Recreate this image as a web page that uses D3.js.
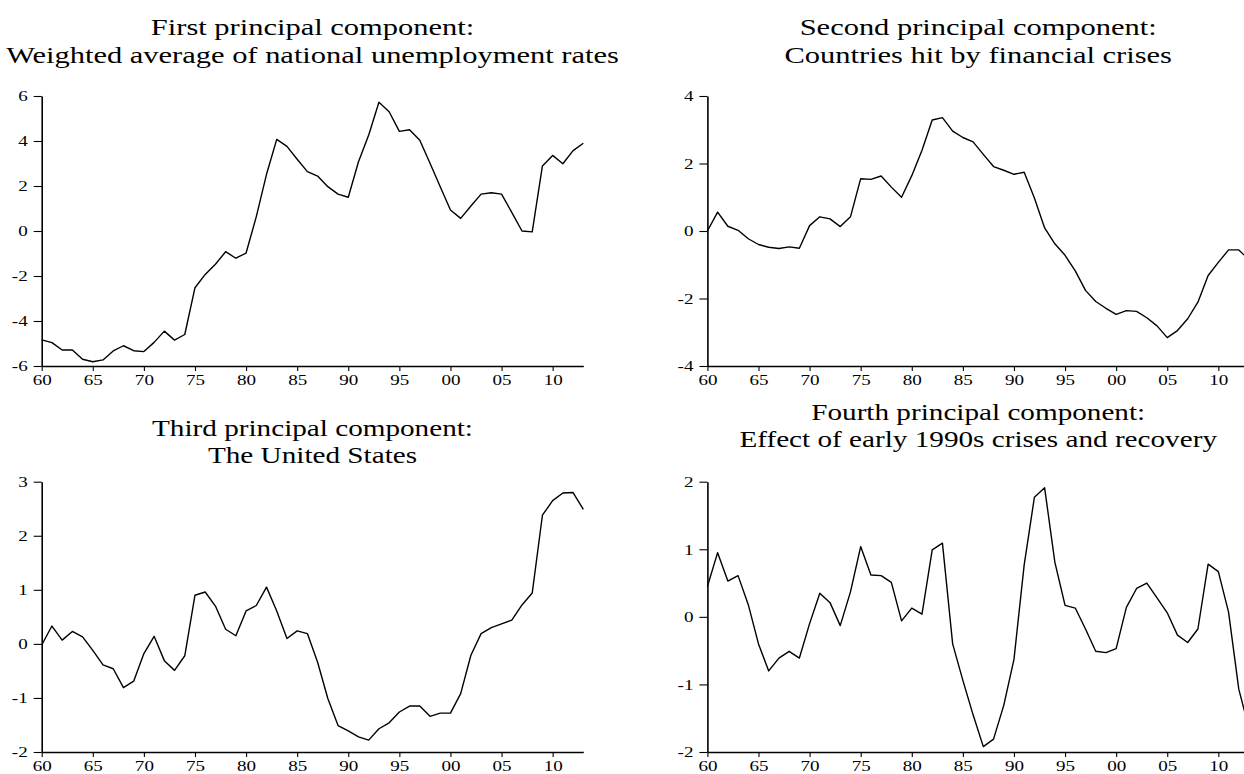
<!DOCTYPE html>
<html>
<head>
<meta charset="utf-8">
<script src="https://cdn.jsdelivr.net/npm/d3@7"></script>
<style>
  html, body { margin: 0; padding: 0; background: #fff; }
  svg { display: block; }
  text { font-family: "Liberation Serif", "Times New Roman", serif; fill: #000; }
</style>
</head>
<body>
<svg id="chart" width="1244" height="774"></svg>
<script>
// Annual observations, 1960-2013
const years = d3.range(1960, 2014);

const pc1 = [-4.84, -4.96, -5.29, -5.29, -5.70, -5.81, -5.73, -5.33, -5.10, -5.32,
  -5.36, -4.95, -4.45, -4.85, -4.60, -2.52, -1.93, -1.48, -0.92, -1.21,
  -0.98, 0.64, 2.52, 4.07, 3.76, 3.19, 2.64, 2.44, 1.97, 1.64,
  1.50, 3.08, 4.27, 5.72, 5.30, 4.43, 4.50, 4.03, 3.01, 1.97,
  0.93, 0.56, 1.11, 1.64, 1.70, 1.64, 0.83, 0.00, -0.04, 2.89,
  3.36, 2.99, 3.57, 3.90];

const pc2 = [0.00, 0.56, 0.14, 0.02, -0.23, -0.40, -0.48, -0.52, -0.47, -0.51,
  0.16, 0.42, 0.36, 0.13, 0.42, 1.55, 1.53, 1.63, 1.30, 1.00,
  1.64, 2.39, 3.29, 3.36, 2.96, 2.77, 2.64, 2.27, 1.91, 1.80,
  1.68, 1.74, 0.98, 0.09, -0.38, -0.72, -1.18, -1.76, -2.09, -2.29,
  -2.47, -2.36, -2.38, -2.57, -2.81, -3.16, -2.95, -2.60, -2.11, -1.32,
  -0.93, -0.56, -0.56, -0.85];

const pc3 = [-0.02, 0.33, 0.07, 0.23, 0.13, -0.12, -0.39, -0.46, -0.81, -0.69,
  -0.18, 0.14, -0.31, -0.49, -0.22, 0.90, 0.96, 0.70, 0.27, 0.15,
  0.61, 0.71, 1.05, 0.61, 0.10, 0.24, 0.19, -0.34, -1.01, -1.51,
  -1.61, -1.72, -1.78, -1.57, -1.46, -1.26, -1.15, -1.15, -1.34, -1.28,
  -1.28, -0.92, -0.21, 0.19, 0.30, 0.37, 0.44, 0.72, 0.94, 2.38,
  2.65, 2.79, 2.80, 2.49];

const pc4 = [0.45, 0.95, 0.53, 0.61, 0.18, -0.40, -0.80, -0.61, -0.51, -0.61,
  -0.10, 0.35, 0.21, -0.13, 0.37, 1.04, 0.62, 0.61, 0.51, -0.06,
  0.13, 0.04, 0.99, 1.09, -0.40, -0.94, -1.45, -1.92, -1.81, -1.31,
  -0.63, 0.77, 1.77, 1.91, 0.81, 0.17, 0.13, -0.18, -0.51, -0.53,
  -0.47, 0.14, 0.42, 0.50, 0.28, 0.06, -0.27, -0.38, -0.18, 0.78,
  0.67, 0.07, -1.07, -1.65];

const xTicks = [1960, 1965, 1970, 1975, 1980, 1985, 1990, 1995, 2000, 2005, 2010];
const yTicks1 = [-6, -4, -2, 0, 2, 4, 6];
const yTicks2 = [-4, -2, 0, 2, 4];
const yTicks3 = [-2, -1, 0, 1, 2, 3];
const yTicks4 = [-2, -1, 0, 1, 2];

const titles1 = ["First principal component:", "Weighted average of national unemployment rates"];
const titles2 = ["Second principal component:", "Countries hit by financial crises"];
const titles3 = ["Third principal component:", "The United States"];
const titles4 = ["Fourth principal component:", "Effect of early 1990s crises and recovery"];

// Panel layout (pixels)
const STRETCH = 1.27;      // horizontal stretch applied to all lettering
const plotW = 541.6;
const panels = [
  { values: pc1, yTicks: yTicks1, titles: titles1, left: 41.7,  top: 96,    bottom: 366, titleY: 35,  titleSize: 24, lead: 28 },
  { values: pc2, yTicks: yTicks2, titles: titles2, left: 707.4, top: 96,    bottom: 366, titleY: 35,  titleSize: 24, lead: 28 },
  { values: pc3, yTicks: yTicks3, titles: titles3, left: 41.7,  top: 481.7, bottom: 752, titleY: 436, titleSize: 23, lead: 27 },
  { values: pc4, yTicks: yTicks4, titles: titles4, left: 707.4, top: 481.7, bottom: 752, titleY: 420, titleSize: 23, lead: 27 }
];

const svg = d3.select("#chart");

panels.forEach(p => {
  const x = d3.scaleLinear().domain([1960, 2013]).range([p.left, p.left + plotW]);
  const y = d3.scaleLinear().domain(d3.extent(p.yTicks)).range([p.bottom, p.top]);
  const g = svg.append("g");

  // x axis
  const xAxis = d3.axisBottom(x)
    .tickValues(xTicks)
    .tickSize(5)
    .tickSizeOuter(0)
    .tickPadding(3)
    .tickFormat(d => String(d % 100).padStart(2, "0"));
  const gx = g.append("g").attr("transform", `translate(0,${p.bottom})`).call(xAxis);
  gx.select(".domain").attr("stroke", "#000").attr("stroke-width", 1.4);
  gx.selectAll(".tick line").attr("stroke", "#000").attr("stroke-width", 1.1);
  gx.selectAll(".tick text")
    .attr("font-size", 15)
    .attr("font-family", "Liberation Serif, serif")
    .attr("transform", `scale(${STRETCH},1)`);

  // y axis
  const yAxis = d3.axisLeft(y)
    .tickValues(p.yTicks)
    .tickSize(8)
    .tickSizeOuter(0)
    .tickFormat(d => String(d));
  const gy = g.append("g").attr("transform", `translate(${p.left},0)`).call(yAxis);
  gy.select(".domain").attr("stroke", "#000").attr("stroke-width", 1.6);
  gy.selectAll(".tick line").attr("stroke", "#000").attr("stroke-width", 1.1);
  gy.selectAll(".tick text")
    .attr("font-size", 15)
    .attr("font-family", "Liberation Serif, serif")
    .attr("x", -14 / STRETCH)
    .attr("transform", `scale(${STRETCH},1)`);

  // series line
  const line = d3.line()
    .x((d, i) => x(years[i]))
    .y(d => y(d));
  g.append("path")
    .datum(p.values)
    .attr("fill", "none")
    .attr("stroke", "#000")
    .attr("stroke-width", 1.4)
    .attr("stroke-linejoin", "round")
    .attr("d", line);

  // two-line title
  const cx = p.left + plotW / 2;
  p.titles.forEach((t, i) => {
    g.append("text")
      .attr("transform", `translate(${cx},${p.titleY + i * p.lead}) scale(${STRETCH},1)`)
      .attr("text-anchor", "middle")
      .attr("font-size", p.titleSize)
      .text(t);
  });
});
</script>
</body>
</html>
